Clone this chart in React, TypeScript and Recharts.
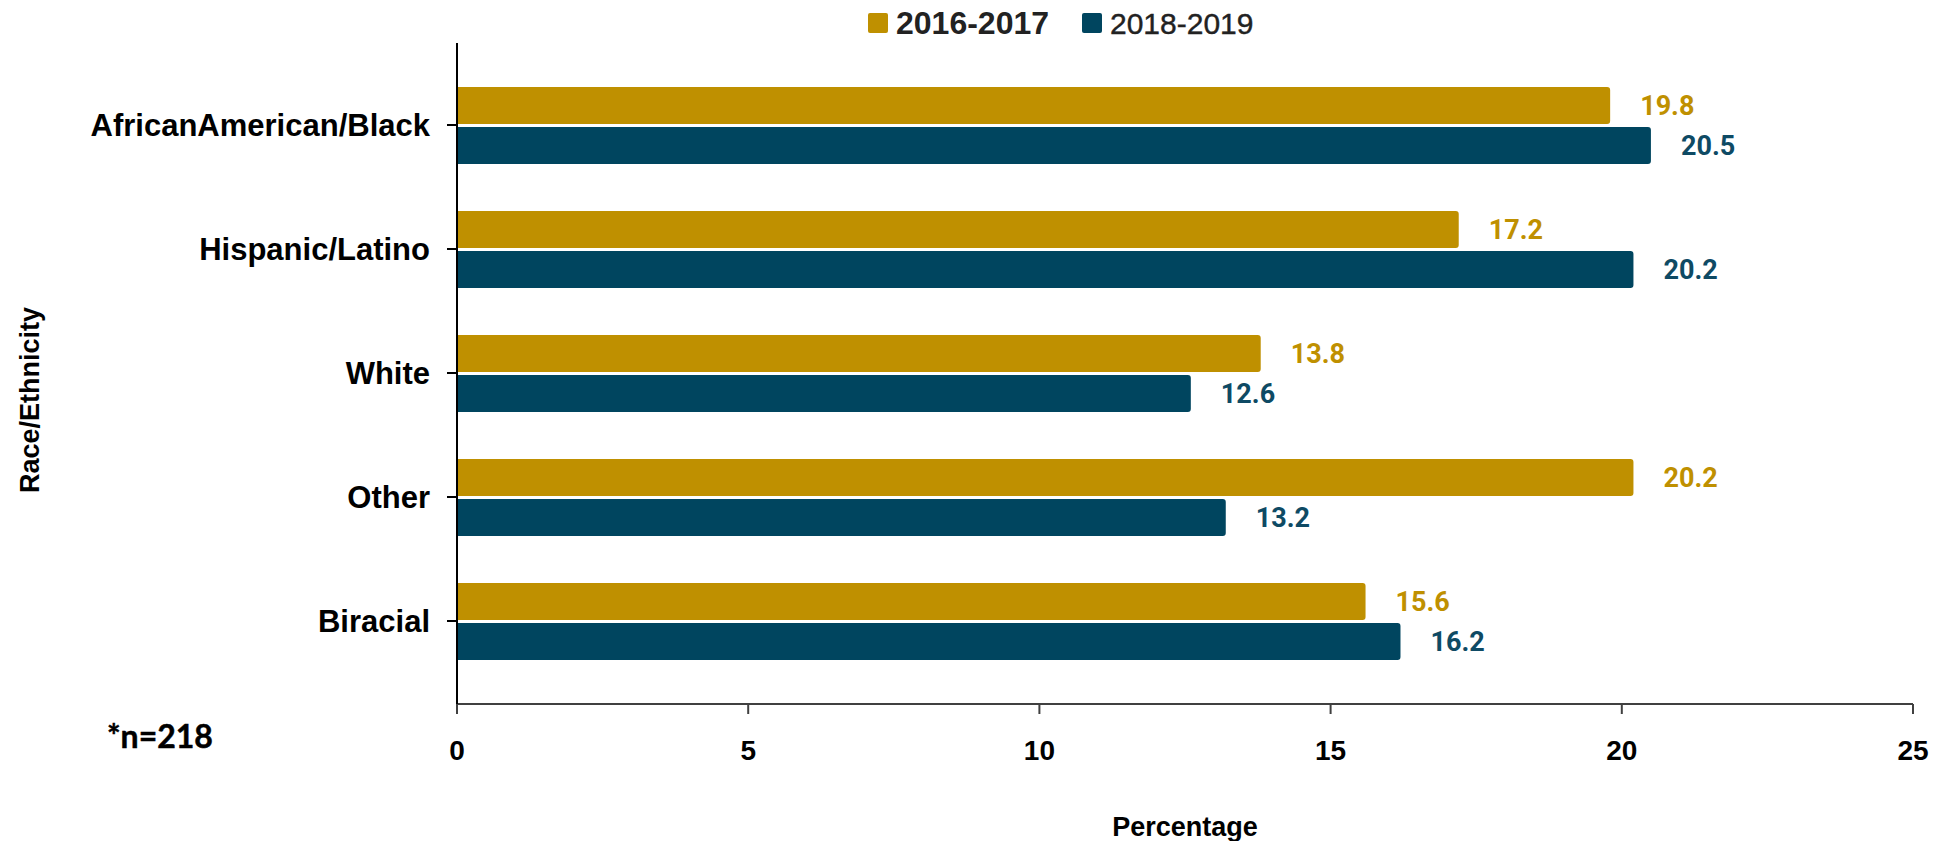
import React from 'react';
import { BarChart, Bar, XAxis, YAxis, LabelList, Customized } from 'recharts';

const categories = ['AfricanAmerican/Black', 'Hispanic/Latino', 'White', 'Other', 'Biracial'];
const values2016 = [19.8, 17.2, 13.8, 20.2, 15.6];
const values2018 = [20.5, 20.2, 12.6, 13.2, 16.2];
const seriesNames = ['2016-2017', '2018-2019'];
const xTicks = [0, 5, 10, 15, 20, 25];

const GOLD = '#BF9000';
const NAVY = '#00455F';

const data = categories.map((name, i) => ({
  name,
  y2016: values2016[i],
  y2018: values2018[i],
}));

const Extras = () => (
  <g>
    {/* legend */}
    <rect x={868} y={13} width={20} height={20} rx={2} fill={GOLD} />
    <text x={896} y={34} fontFamily="Liberation Sans, Arial, sans-serif" fontWeight={700} fontSize={32} fill="#222">
      {seriesNames[0]}
    </text>
    <rect x={1082} y={13} width={20} height={20} rx={2} fill={NAVY} />
    <text x={1110} y={34} fontFamily="Liberation Sans, Arial, sans-serif" fontWeight={400} fontSize={30} fill="#222" stroke="#222" strokeWidth={0.4}>
      {seriesNames[1]}
    </text>
    {/* y axis title */}
    <text
      transform="translate(30,400) rotate(-90)"
      textAnchor="middle"
      dy="0.35em"
      fontFamily="Liberation Sans, Arial, sans-serif"
      fontWeight={700}
      fontSize={27}
      fill="#000"
    >
      Race/Ethnicity
    </text>
    {/* sample note */}
    <text x={107} y={748} fontFamily="Lato, sans-serif" fontWeight={700} fontSize={32} fill="#000" stroke="#000" strokeWidth={0.5}>
      *n=218
    </text>
  </g>
);

export default function App() {
  return (
    <div style={{ position: 'absolute', left: 0, top: 0, width: 1939, height: 841, background: '#fff' }}>
      <BarChart
        width={1939}
        height={841}
        data={data}
        layout="vertical"
        margin={{ top: 43, right: 26, bottom: 0, left: 0 }}
        barCategoryGap={24}
        barGap={3}
      >
        <XAxis
          type="number"
          domain={[0, 25]}
          ticks={xTicks}
          height={137}
          stroke="#404040"
          strokeWidth={2}
          tickSize={10}
          tickMargin={26}
          tick={{ fill: '#000', fontSize: 28, fontWeight: 700, fontFamily: 'Liberation Sans, Arial, sans-serif' }}
          label={{
            value: 'Percentage',
            position: 'insideBottom',
            offset: 5,
            style: { fill: '#000', fontSize: 27, fontWeight: 700, fontFamily: 'Liberation Sans, Arial, sans-serif' },
          }}
        />
        <YAxis
          type="category"
          dataKey="name"
          width={457}
          stroke="#000"
          strokeWidth={2}
          tickSize={10}
          tickMargin={17}
          padding={{ top: 20, bottom: 21 }}
          tick={{ fill: '#000', fontSize: 31, fontWeight: 700, fontFamily: 'Liberation Sans, Arial, sans-serif' }}
        />
        <Bar dataKey="y2016" name={seriesNames[0]} fill={GOLD} radius={[0, 3, 3, 0]} isAnimationActive={false}>
          <LabelList
            dataKey="y2016"
            position="right"
            offset={30}
            style={{ fill: GOLD, fontSize: 27, fontWeight: 700, fontFamily: 'Roboto, sans-serif' }}
          />
        </Bar>
        <Bar dataKey="y2018" name={seriesNames[1]} fill={NAVY} radius={[0, 3, 3, 0]} isAnimationActive={false}>
          <LabelList
            dataKey="y2018"
            position="right"
            offset={30}
            style={{ fill: '#0E4A64', fontSize: 27, fontWeight: 700, fontFamily: 'Roboto, sans-serif' }}
          />
        </Bar>
        <Customized component={Extras} />
      </BarChart>
    </div>
  );
}
